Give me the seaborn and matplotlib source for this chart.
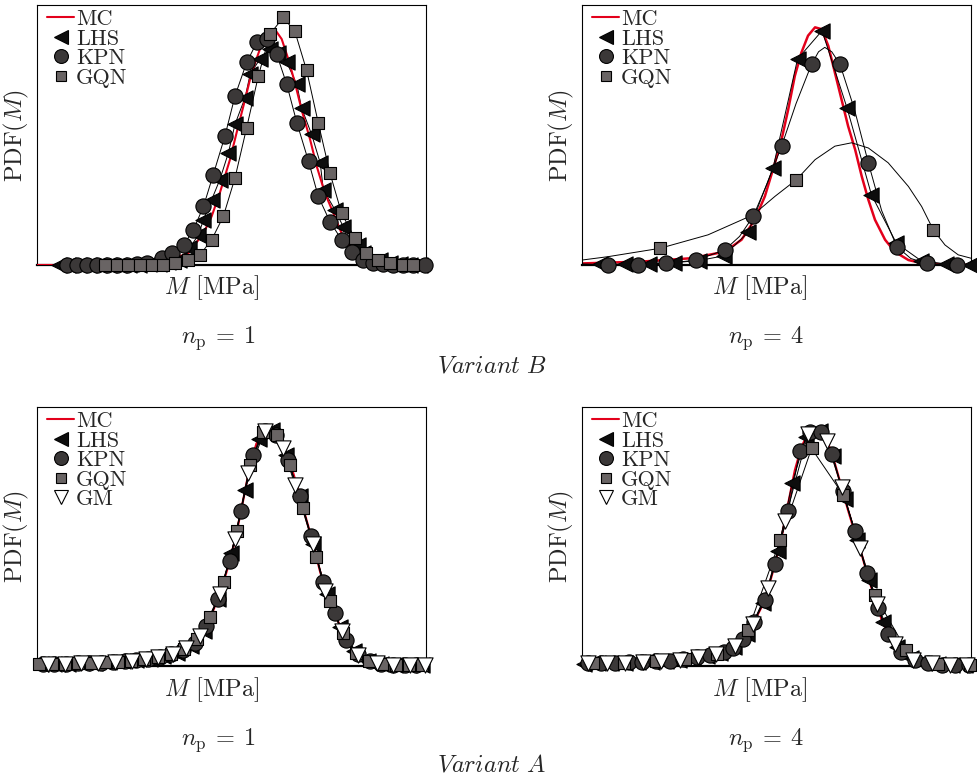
import matplotlib
matplotlib.use("Agg")
import matplotlib.pyplot as plt
import seaborn as sns
from matplotlib.lines import Line2D

sns.set_style("white")
plt.rcParams["font.family"] = ["cmr10", "DejaVu Serif"]
plt.rcParams["mathtext.fontset"] = "cm"
plt.rcParams["axes.unicode_minus"] = False
plt.rcParams["axes.formatter.use_mathtext"] = True

FS = 17.5

# ---------------- Variant B, n_p = 1 ----------------
b1_mc_x = [0, 5.1, 32.5, 38.9, 42.8, 44.9, 47.0, 49.6, 51.3, 53.5, 55.2, 57.3, 59.5, 61.2,
           62.9, 64.6, 66.3, 68.0, 70.2, 71.9, 74.0, 76.2, 78.3, 80.5, 83.0, 86.5, 92.5, 100]
b1_mc_y = [0, 0, 0.013, 0.045, 0.122, 0.187, 0.277, 0.405, 0.508, 0.637, 0.740, 0.830, 0.894, 0.905,
           0.869, 0.792, 0.701, 0.598, 0.483, 0.380, 0.277, 0.199, 0.122, 0.071, 0.032, 0.006, 0, 0]

b1_lhs_x = [5.6, 8.1, 10.7, 13.3, 15.9, 18.4, 21.0, 23.6, 26.1, 28.7, 31.3, 33.8, 36.4, 39.2, 41.5,
            42.8, 44.9, 47.0, 49.2, 50.9, 53.5, 54.8, 57.3, 59.9, 62.0, 64.2, 66.8, 68.0, 70.6, 72.8,
            73.6, 76.6, 78.7, 82.6, 83.9, 88.2, 90.7, 93.3, 95.9, 98.5]
b1_lhs_y = [0, 0, 0, 0, 0, 0, 0, 0, 0, 0.003, 0.005, 0.010, 0.019, 0.064, 0.116,
            0.174, 0.251, 0.328, 0.431, 0.541, 0.644, 0.734, 0.792, 0.830, 0.817, 0.779, 0.695, 0.605, 0.502, 0.393,
            0.290, 0.212, 0.148, 0.077, 0.045, 0.019, 0.009, 0.004, 0.001, 0]

b1_kpn_x = [7.7, 10.3, 12.9, 15.4, 18.0, 20.6, 23.1, 25.7, 28.3, 32.1, 34.7, 37.7, 40.2, 42.8, 45.3,
            48.3, 50.9, 53.9, 56.5, 59.2, 61.6, 64.2, 66.8, 69.8, 72.3, 75.3, 78.3, 80.9, 83.9, 86.5,
            89.0, 91.6, 94.2, 96.7, 99.7]
b1_kpn_y = [0, 0, 0, 0, 0, 0, 0, 0.003, 0.006, 0.026, 0.045, 0.077, 0.135, 0.225, 0.347,
            0.495, 0.650, 0.779, 0.856, 0.871, 0.811, 0.695, 0.547, 0.399, 0.264, 0.167, 0.097, 0.051, 0.019, 0.006,
            0.003, 0, 0, 0, 0]

b1_gqn_x = [17.5, 20.5, 23.5, 26.5, 29.5, 32.5, 35.5, 38.9, 41.9, 44.9, 47.9, 50.9, 53.9, 56.9,
            59.9, 63.3, 66.3, 69.3, 72.3, 75.3, 78.3, 81.7, 84.7, 87.7, 90.7, 94.2, 96.7]
b1_gqn_y = [0, 0, 0, 0, 0, 0, 0.006, 0.019, 0.039, 0.097, 0.187, 0.335, 0.528, 0.727,
            0.888, 0.952, 0.898, 0.749, 0.547, 0.354, 0.199, 0.103, 0.045, 0.019, 0.006, 0, 0]

# ---------------- Variant B, n_p = 4 ----------------
b4_mc_x = [0, 15.3, 28.1, 36.7, 41.0, 44.4, 47.0, 49.6, 51.3, 53.0, 54.7, 56.4, 58.1, 59.9, 61.6,
           63.3, 65.0, 66.7, 68.4, 70.2, 71.9, 73.6, 75.3, 77.9, 80.4, 83.9, 88.2, 100]
b4_mc_y = [0.006, 0.013, 0.026, 0.051, 0.097, 0.174, 0.264, 0.393, 0.483, 0.598, 0.727, 0.817, 0.882, 0.914, 0.907,
           0.843, 0.740, 0.637, 0.534, 0.444, 0.341, 0.251, 0.174, 0.097, 0.051, 0.019, 0.004, 0]

b4_lhs_x = [4.6, 11.0, 17.3, 23.7, 30.0, 36.4, 42.7, 49.1, 55.4, 61.7, 68.1, 74.4, 80.8, 87.1, 93.5, 99.8]
b4_lhs_y = [0.003, 0.003, 0.004, 0.009, 0.017, 0.035, 0.125, 0.373, 0.792, 0.901, 0.605, 0.270, 0.084, 0.017, 0.004, 0]

b4_kpn_x = [6.7, 14.4, 21.7, 29.4, 36.7, 44.0, 51.3, 59.0, 66.3, 73.6, 80.9, 88.6, 96.3]
b4_kpn_y = [0, 0, 0.006, 0.019, 0.058, 0.187, 0.457, 0.772, 0.772, 0.393, 0.071, 0.006, 0]
b4_kpn_cx = [0, 6.7, 14.4, 21.7, 29.4, 36.7, 40.5, 44.0, 47.5, 51.3, 55.0, 59.0, 60.8, 62.4, 64.2,
             66.3, 70.0, 73.6, 77.0, 80.9, 84.5, 88.6, 96.3, 100]
b4_kpn_cy = [0.004, 0, 0, 0.006, 0.019, 0.058, 0.11, 0.187, 0.31, 0.457, 0.62, 0.772, 0.82, 0.837, 0.82,
             0.772, 0.60, 0.393, 0.21, 0.071, 0.025, 0.006, 0, 0]

b4_gqn_x = [20.0, 55.1, 90.3]
b4_gqn_y = [0.064, 0.328, 0.135]
b4_gqn_cx = [0, 6.7, 20.0, 32.4, 44.0, 49.6, 55.1, 59.9, 65.0, 69.3, 73.6, 78.7, 83.9, 87.3, 90.3, 93.3, 96.7, 100]
b4_gqn_cy = [0.019, 0.032, 0.064, 0.116, 0.193, 0.264, 0.328, 0.405, 0.457, 0.470, 0.450, 0.393, 0.302, 0.225,
             0.135, 0.077, 0.039, 0.026]

# ---------------- Variant A, n_p = 1 ----------------
a1_mc_x = [0, 5, 10, 15, 20, 25, 30, 33, 36, 38.4, 40, 42, 44.4, 47.0, 49.1, 50.9, 53.0, 54.7, 56.4,
           58.1, 59.9, 62.0, 64.2, 65.9, 67.6, 69.3, 71.0, 72.7, 74.4, 76.2, 78.7, 81.3, 83.9, 86, 88.2, 92, 96, 100]
a1_mc_y = [0.006, 0.008, 0.010, 0.012, 0.016, 0.022, 0.030, 0.040, 0.052, 0.068, 0.085, 0.115, 0.180, 0.279,
           0.382, 0.485, 0.640, 0.768, 0.858, 0.903, 0.916, 0.884, 0.807, 0.743, 0.653, 0.562, 0.472, 0.369,
           0.279, 0.215, 0.125, 0.060, 0.028, 0.016, 0.009, 0.005, 0.003, 0.002]

a1_lhs_x = [1.0, 4.5, 8.0, 11.5, 15.0, 18.5, 22.0, 25.5, 29.0, 32.5, 36.0, 39.5, 43.0, 46.5, 50.0,
            53.5, 57.0, 60.5, 64.0, 67.5, 71.0, 74.5, 78.0, 81.5, 85.0, 88.5, 92.0, 95.5, 99.0]
a1_lhs_y = [0.006, 0.008, 0.009, 0.010, 0.012, 0.015, 0.018, 0.023, 0.028, 0.038, 0.052, 0.077, 0.135, 0.258,
            0.435, 0.680, 0.875, 0.910, 0.815, 0.658, 0.472, 0.278, 0.150, 0.057, 0.021, 0.009, 0.005, 0.003, 0.002]

a1_kpn_x = [1.5, 4.5, 7.5, 10.5, 13.5, 16.5, 19.5, 22.5, 25.5, 28.5, 31.5, 34.5, 37.5, 40.5, 43.5, 46.5,
            49.5, 52.5, 55.5, 58.5, 61.5, 64.5, 67.5, 70.5, 73.5, 76.5, 79.5, 82.5, 85.5, 88.5, 91.5, 94.5, 97.5]
a1_kpn_y = [0.007, 0.008, 0.009, 0.010, 0.011, 0.013, 0.016, 0.019, 0.023, 0.027, 0.034, 0.046, 0.062, 0.090,
            0.155, 0.258, 0.405, 0.600, 0.815, 0.908, 0.892, 0.797, 0.658, 0.500, 0.325, 0.205, 0.100, 0.045,
            0.019, 0.009, 0.005, 0.004, 0.003]

a1_gqn_x = [0.4, 3.8, 7.2, 10.6, 14.0, 17.4, 20.8, 24.2, 27.6, 31.0, 34.4, 37.8, 41.2, 44.6, 48.0,
            51.4, 54.8, 58.2, 61.6, 65.0, 68.4, 71.8, 75.2, 78.6, 82.0, 85.4, 88.8, 92.2, 95.6, 99.0]
a1_gqn_y = [0.006, 0.007, 0.009, 0.010, 0.011, 0.014, 0.017, 0.021, 0.026, 0.033, 0.045, 0.064, 0.103, 0.188,
            0.325, 0.520, 0.775, 0.904, 0.890, 0.775, 0.610, 0.420, 0.250, 0.128, 0.050, 0.018, 0.008, 0.005,
            0.003, 0.002]

a1_gm_x = [2.8, 7.1, 11.4, 15.7, 20.0, 24.3, 28.0, 31.1, 35.0, 38.4, 42.0, 47.0, 50.9, 54.3, 58.6,
           63.3, 66.3, 71.0, 74.0, 78.3, 82.6, 87.3, 91.6, 95.9, 99.8]
a1_gm_y = [0.007, 0.009, 0.010, 0.012, 0.016, 0.021, 0.027, 0.033, 0.048, 0.068, 0.115, 0.279, 0.490, 0.745,
           0.908, 0.840, 0.700, 0.470, 0.290, 0.135, 0.042, 0.011, 0.005, 0.003, 0.002]

# ---------------- Variant A, n_p = 4 ----------------
a4_mc_x = [0, 10, 20, 23.8, 28, 32.4, 36, 38.4, 40, 41.9, 44.4, 47.0, 49.6, 51.3, 53.0, 54.7, 56.4, 58.1,
           59.9, 61.6, 63.3, 65.0, 66.7, 68.4, 70.2, 71.9, 73.6, 75.3, 77.0, 79.2, 81.3, 83.9, 87.3, 92.5, 100]
a4_mc_y = [0.009, 0.013, 0.018, 0.022, 0.030, 0.041, 0.053, 0.067, 0.085, 0.112, 0.176, 0.253, 0.394, 0.497,
           0.627, 0.755, 0.846, 0.897, 0.916, 0.903, 0.858, 0.781, 0.691, 0.601, 0.511, 0.430, 0.340, 0.260,
           0.180, 0.112, 0.067, 0.035, 0.015, 0.005, 0.003]

a4_lhs_x = [0.5, 4.0, 7.5, 11.0, 14.5, 18.0, 21.5, 25.0, 28.5, 32.0, 35.5, 39.0, 42.5, 46.6, 50.4,
            54.0, 57.6, 61.2, 64.4, 67.6, 70.8, 73.8, 77.4, 81.0, 84.5, 88.0, 91.5, 95.0, 98.5]
a4_lhs_y = [0.009, 0.011, 0.012, 0.013, 0.015, 0.017, 0.020, 0.024, 0.031, 0.040, 0.051, 0.073, 0.125, 0.245,
            0.445, 0.705, 0.885, 0.908, 0.812, 0.645, 0.485, 0.330, 0.170, 0.072, 0.031, 0.013, 0.006, 0.004, 0.003]

a4_kpn_x = [1.5, 5.0, 8.5, 12.0, 15.5, 19.0, 22.5, 26.0, 29.5, 33.0, 36.5, 38.8, 41.4, 44.2, 47.0, 49.6,
            53.0, 56.0, 58.6, 61.5, 64.2, 67.0, 70.2, 73.2, 76.0, 78.7, 82.0, 85.5, 89.0, 92.5, 96.0, 99.5]
a4_kpn_y = [0.010, 0.011, 0.012, 0.014, 0.016, 0.018, 0.021, 0.026, 0.033, 0.043, 0.055, 0.071, 0.105, 0.170,
            0.253, 0.394, 0.600, 0.830, 0.903, 0.903, 0.820, 0.675, 0.520, 0.360, 0.225, 0.125, 0.055, 0.024,
            0.011, 0.005, 0.004, 0.003]

a4_gqn_x = [2.7, 10.8, 18.9, 26.6, 34.6, 42.7, 50.9, 59.0, 67.2, 75.3, 83.4, 91.5, 99.6]
a4_gqn_y = [0.010, 0.013, 0.018, 0.027, 0.048, 0.138, 0.485, 0.840, 0.659, 0.273, 0.060, 0.007, 0.003]

a4_gm_x = [1.6, 6.3, 11.0, 15.7, 20.4, 25.1, 29.8, 34.5, 39.2, 43.9, 47.9, 52.1, 58.1, 62.9, 66.7,
           71.4, 75.7, 80.4, 85.2, 89.9, 94.6, 98.9]
a4_gm_y = [0.010, 0.012, 0.013, 0.016, 0.018, 0.024, 0.033, 0.048, 0.076, 0.162, 0.300, 0.560, 0.897, 0.868,
           0.691, 0.455, 0.240, 0.085, 0.024, 0.010, 0.004, 0.003]

RED = "#e3001b"
STYLE = {
    "LHS": dict(marker="<", color="#0d0d0d", s=120),
    "KPN": dict(marker="o", color="#3b3838", s=120),
    "GQN": dict(marker="s", color="#696464", s=66),
    "GM": dict(marker="v", color="white", s=120),
}


def draw_method(ax, name, mx, my, cx=None, cy=None, z=4):
    if cx is None:
        cx, cy = mx, my
    sns.lineplot(x=cx, y=cy, color="black", lw=0.7, sort=False, estimator=None, ax=ax, zorder=2)
    st = STYLE[name]
    sns.scatterplot(x=mx, y=my, marker=st["marker"], color=st["color"], s=st["s"],
                    edgecolor="black", linewidth=0.8, ax=ax, clip_on=False, zorder=z)


def setup(ax, names):
    ax.set_xlim(0, 100)
    ax.set_ylim(0, 1)
    ax.set_xticks([])
    ax.set_yticks([])
    for sp in ax.spines.values():
        sp.set_linewidth(0.8)
        sp.set_color("black")
    ax.spines["bottom"].set_linewidth(1.6)
    ax.set_ylabel(r"PDF($M$)", fontsize=FS, labelpad=4)
    handles = [Line2D([], [], color=RED, lw=1.5)]
    for n in names[1:]:
        st = STYLE[n]
        handles.append(Line2D([], [], ls="none", marker=st["marker"], mfc=st["color"], mec="black",
                              mew=0.8, ms=10 if n != "GQN" else 7.5))
    ax.legend(handles, names, loc="upper left", bbox_to_anchor=(0.015, 1.0), frameon=False,
              fontsize=16, handlelength=1.2, handletextpad=0.1, labelspacing=0.0,
              borderpad=0.2, borderaxespad=0)


fig = plt.figure(figsize=(9.78, 7.78), dpi=100)
ax_b1 = fig.add_axes([0.0378, 0.6594, 0.3978, 0.3342])
ax_b4 = fig.add_axes([0.5951, 0.6594, 0.3978, 0.3342])
ax_a1 = fig.add_axes([0.0378, 0.1440, 0.3978, 0.3329])
ax_a4 = fig.add_axes([0.5951, 0.1440, 0.3978, 0.3329])

# Variant B, n_p = 1
draw_method(ax_b1, "LHS", b1_lhs_x, b1_lhs_y, z=4)
draw_method(ax_b1, "KPN", b1_kpn_x, b1_kpn_y, z=5)
draw_method(ax_b1, "GQN", b1_gqn_x, b1_gqn_y, z=6)
sns.lineplot(x=b1_mc_x, y=b1_mc_y, color=RED, lw=1.5, sort=False, estimator=None, ax=ax_b1, zorder=3)
setup(ax_b1, ["MC", "LHS", "KPN", "GQN"])

# Variant B, n_p = 4
sns.lineplot(x=b4_mc_x, y=b4_mc_y, color=RED, lw=1.8, sort=False, estimator=None, ax=ax_b4, zorder=1.5)
draw_method(ax_b4, "LHS", b4_lhs_x, b4_lhs_y, z=4)
draw_method(ax_b4, "KPN", b4_kpn_x, b4_kpn_y, b4_kpn_cx, b4_kpn_cy, z=5)
draw_method(ax_b4, "GQN", b4_gqn_x, b4_gqn_y, b4_gqn_cx, b4_gqn_cy, z=6)
setup(ax_b4, ["MC", "LHS", "KPN", "GQN"])

# Variant A, n_p = 1
sns.lineplot(x=a1_mc_x, y=a1_mc_y, color=RED, lw=1.6, sort=False, estimator=None, ax=ax_a1, zorder=1.5)
draw_method(ax_a1, "LHS", a1_lhs_x, a1_lhs_y, z=4)
draw_method(ax_a1, "KPN", a1_kpn_x, a1_kpn_y, z=5)
draw_method(ax_a1, "GQN", a1_gqn_x, a1_gqn_y, z=6)
draw_method(ax_a1, "GM", a1_gm_x, a1_gm_y, z=7)
setup(ax_a1, ["MC", "LHS", "KPN", "GQN", "GM"])

# Variant A, n_p = 4
sns.lineplot(x=a4_mc_x, y=a4_mc_y, color=RED, lw=1.6, sort=False, estimator=None, ax=ax_a4, zorder=1.5)
draw_method(ax_a4, "LHS", a4_lhs_x, a4_lhs_y, z=4)
draw_method(ax_a4, "KPN", a4_kpn_x, a4_kpn_y, z=5)
draw_method(ax_a4, "GQN", a4_gqn_x, a4_gqn_y, z=6)
draw_method(ax_a4, "GM", a4_gm_x, a4_gm_y, z=7)
setup(ax_a4, ["MC", "LHS", "KPN", "GQN", "GM"])

# x labels and captions
for xc, yl, yn, np_txt in [(212, 288, 338, 1), (760, 288, 338, 4), (212, 690, 740, 1), (760, 690, 740, 4)]:
    fig.text(xc / 978, 1 - yl / 778, r"$M$ [MPa]", ha="center", va="center", fontsize=FS)
    fig.text((xc + 6) / 978, 1 - yn / 778, r"$n_{\mathrm{p}}\:=\:%d$" % np_txt, ha="center", va="center",
             fontsize=FS)
fig.text(492 / 978, 1 - 366 / 778, r"$Variant\ B$", ha="center", va="center", fontsize=FS)
fig.text(492 / 978, 1 - 765 / 778, r"$Variant\ A$", ha="center", va="center", fontsize=FS)

fig.savefig("out.png", dpi=100)
